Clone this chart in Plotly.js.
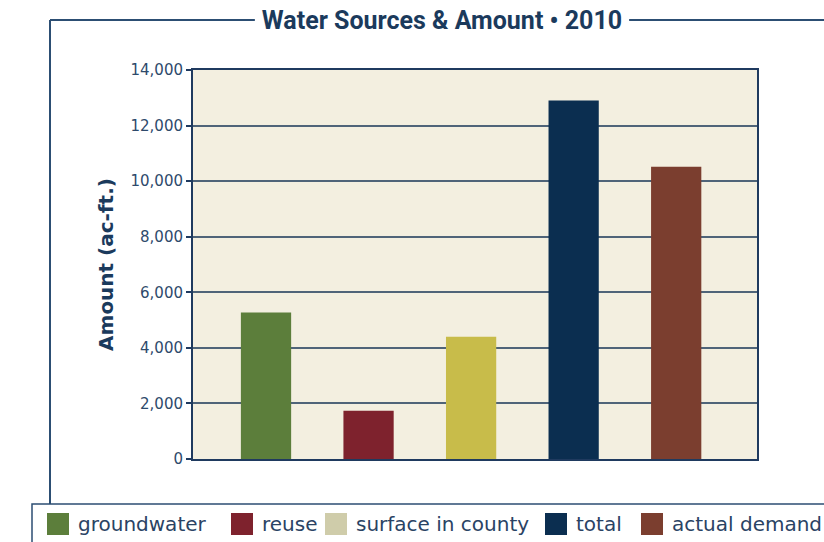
<!DOCTYPE html>
<html>
<head>
<meta charset="utf-8">
<script src="https://cdn.plot.ly/plotly-3.0.1.min.js"></script>
<style>html,body{margin:0;padding:0;background:#fff;}#chart{width:824px;height:542px;}</style>
</head>
<body>
<div id="chart"></div>
<script>
// ---- data ----
const categories = ["groundwater", "reuse", "surface in county", "total", "actual demand"];
const amounts = [5270, 1740, 4400, 12900, 10520];
const barColors = ["#5C7E3B", "#7E222D", "#C8BC4A", "#0B2E50", "#7B3E2F"];
const legendColors = ["#5C7E3B", "#7E222D", "#CFCCAA", "#0B2E50", "#7B3E2F"];
const yTickVals = [0, 2000, 4000, 6000, 8000, 10000, 12000, 14000];
const chartTitle = "Water Sources &amp; Amount • 2010";
const yTitle = "Amount (ac-ft.)";

// ---- layout geometry (pixels) ----
const WIDTH = 824, HEIGHT = 542;
const L = 193, R = 67, T = 70, B = 83;
const PW = WIDTH - L - R, PH = HEIGHT - T - B;
const px = x => (x - L) / PW;
const py = y => (HEIGHT - B - y) / PH;
const NAVY = "#1B3A5C";
const FRAME = "#2C4E73";
const legendSwatchX = [47, 231, 325, 545, 641];

function textWidth(txt, font) {
  const c = document.createElement("canvas").getContext("2d");
  c.font = font;
  return c.measureText(txt).width;
}

const traces = categories.map((c, i) => ({
  type: "bar",
  x: [c],
  y: [amounts[i]],
  name: c,
  width: 0.49,
  marker: {color: barColors[i]},
  showlegend: false,
  hovertemplate: "%{x}: %{y:,}<extra></extra>"
}));

const shapes = [];
const annotations = [];

// title frame lines
const titleSize = 25;
const titleFont = "bold " + titleSize + "px Roboto";
const tW = textWidth("Water Sources & Amount • 2010", titleFont);
const tCx = 442;
const titleY = 20;
shapes.push({type: "line", xref: "paper", yref: "paper", x0: px(50), x1: px(tCx - tW / 2 - 7), y0: py(titleY), y1: py(titleY), line: {color: FRAME, width: 2}});
shapes.push({type: "line", xref: "paper", yref: "paper", x0: px(tCx + tW / 2 + 7), x1: px(840), y0: py(titleY), y1: py(titleY), line: {color: FRAME, width: 2}});
shapes.push({type: "line", xref: "paper", yref: "paper", x0: px(50), x1: px(50), y0: py(titleY), y1: py(504), line: {color: FRAME, width: 2}});
// legend box
shapes.push({type: "rect", xref: "paper", yref: "paper", x0: px(32), x1: px(840), y0: py(504), y1: py(560), line: {color: FRAME, width: 1.5}, fillcolor: "rgba(0,0,0,0)"});

// custom legend
const legFontSize = 20;
categories.forEach((c, i) => {
  const sx = legendSwatchX[i];
  shapes.push({type: "rect", xref: "paper", yref: "paper", x0: px(sx), x1: px(sx + 22), y0: py(513), y1: py(535), line: {width: 0}, fillcolor: legendColors[i]});
  annotations.push({xref: "paper", yref: "paper", x: px(sx + 29), y: py(524), xanchor: "left", yanchor: "middle", showarrow: false, text: c, font: {family: "DejaVu Sans", size: legFontSize, color: "#2A4364"}});
});

const layout = {
  width: WIDTH, height: HEIGHT,
  margin: {l: L, r: R, t: T, b: B, pad: 0},
  paper_bgcolor: "#FFFFFF",
  plot_bgcolor: "#F3EFE0",
  barmode: "overlay",
  showlegend: false,
  title: {text: chartTitle, x: tCx / WIDTH, xanchor: "center", y: 1 - titleY / HEIGHT, yanchor: "middle", xref: "container", yref: "container", font: {family: "Roboto", size: titleSize, color: NAVY, weight: "bold"}},
  xaxis: {
    type: "category", range: [-0.712, 4.788], showticklabels: false, ticks: "",
    showgrid: false, zeroline: false, showline: true, linecolor: "#1F3A5F", linewidth: 2, mirror: true, fixedrange: true
  },
  yaxis: {
    range: [0, 14000], tickvals: yTickVals, tickformat: ",d",
    showgrid: true, gridcolor: "#4F6479", gridwidth: 1.5, zeroline: false,
    showline: true, linecolor: "#1F3A5F", linewidth: 2, mirror: true,
    ticks: "outside", ticklen: 5, tickcolor: "#1F3A5F", tickwidth: 1.5,
    tickfont: {family: "DejaVu Sans", size: 15, color: "#2E4A6B"},
    title: {text: yTitle, standoff: 12, font: {family: "DejaVu Sans", size: 20, color: NAVY, weight: "bold"}},
    fixedrange: true
  },
  shapes: shapes,
  annotations: annotations
};

Plotly.newPlot("chart", traces, layout, {displayModeBar: false, responsive: false});
</script>
</body>
</html>
